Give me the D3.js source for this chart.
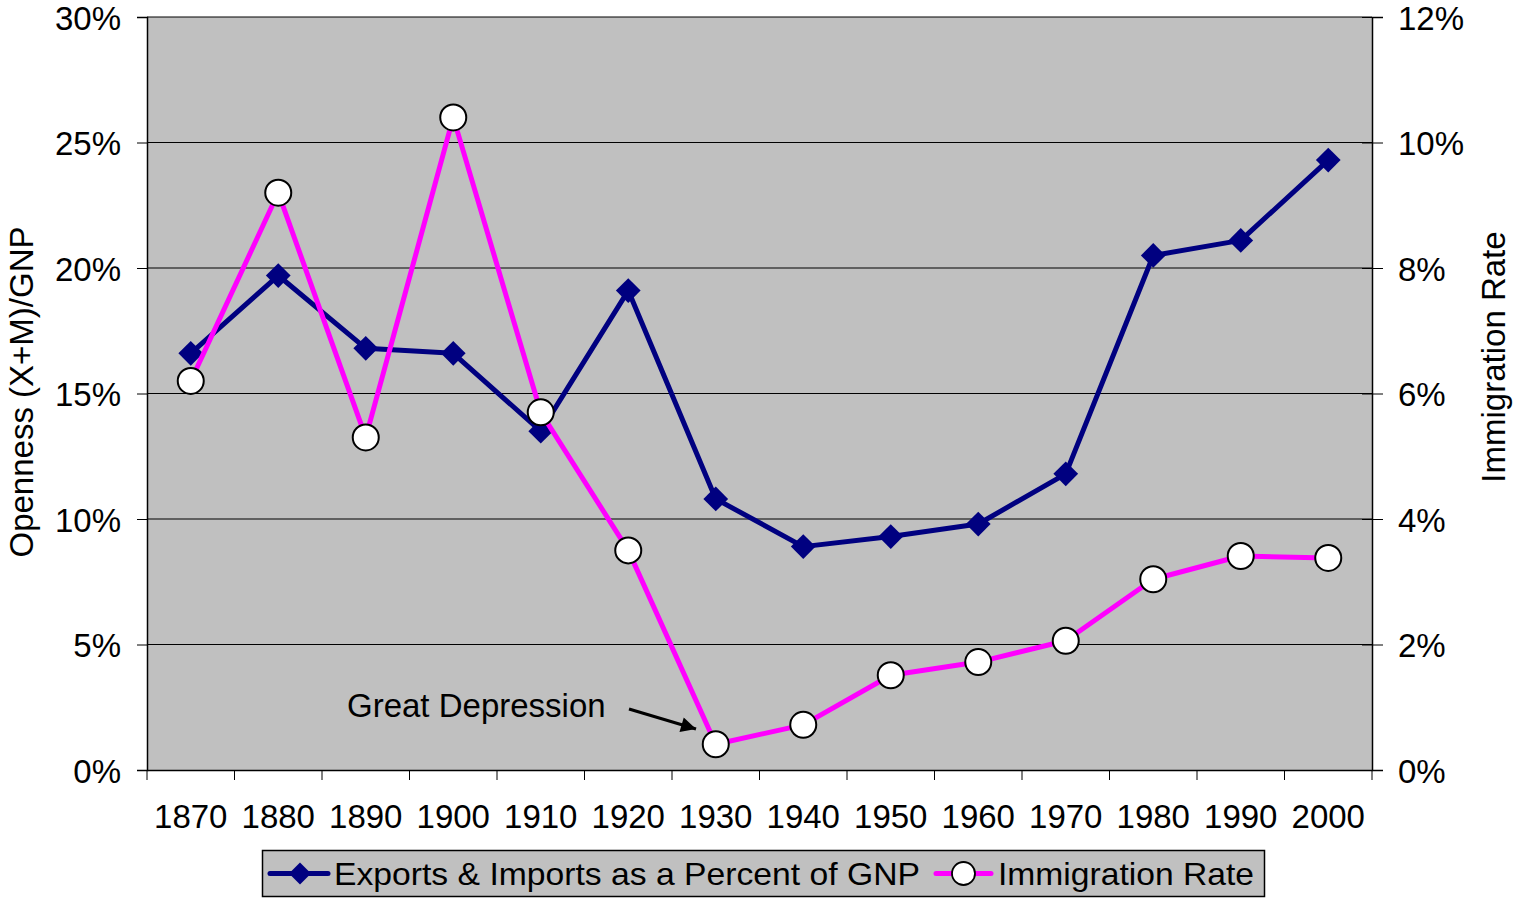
<!DOCTYPE html>
<html>
<head>
<meta charset="utf-8">
<script src="https://cdn.jsdelivr.net/npm/d3@7"></script>
<style>
  body { margin: 0; background: #fff; }
  svg text { font-family: "Liberation Sans", Arial, sans-serif; fill: #000; }
</style>
</head>
<body>
<div id="chart"></div>
<script>
// data
var years = ["1870", "1880", "1890", "1900", "1910", "1920", "1930", "1940", "1950", "1960", "1970", "1980", "1990", "2000"];
var openness = [16.6, 19.7, 16.8, 16.6, 13.5, 19.1, 10.8, 8.9, 9.3, 9.8, 11.8, 20.5, 21.1, 24.3];
var immigration = [6.2, 9.2, 5.3, 10.4, 5.7, 3.5, 0.41, 0.72, 1.51, 1.72, 2.06, 3.04, 3.41, 3.38];
var leftTicks = [0, 5, 10, 15, 20, 25, 30];
var rightTicks = [0, 2, 4, 6, 8, 10, 12];

var W = 1513, H = 899;
var margin = {top: 17, right: 141, bottom: 129, left: 147};
var width = W - margin.left - margin.right,
    height = H - margin.top - margin.bottom;

var svg = d3.select("#chart").append("svg")
    .attr("width", W)
    .attr("height", H);

var g = svg.append("g")
    .attr("transform", "translate(" + margin.left + "," + margin.top + ")");

var x = d3.scaleBand().domain(years).range([0, width]);
var yL = d3.scaleLinear().domain([0, 30]).range([height, 0]);
var yR = d3.scaleLinear().domain([0, 12]).range([height, 0]);
var cx = function(d) { return x(d) + x.bandwidth() / 2; };

// plot area
g.append("rect")
    .attr("width", width)
    .attr("height", height)
    .attr("fill", "#c0c0c0");

// gridlines
g.selectAll(".grid")
  .data(leftTicks.slice(1))
  .enter()
  .append("line")
    .attr("x1", 0)
    .attr("x2", width)
    .attr("y1", function(d) { return yL(d); })
    .attr("y2", function(d) { return yL(d); })
    .attr("stroke", "#000")
    .attr("stroke-width", 1);

// left axis
var axL = g.append("g")
    .call(d3.axisLeft(yL).tickValues(leftTicks).tickSize(10).tickPadding(16)
      .tickFormat(function(d) { return d + "%"; }));
axL.selectAll("text").style("font-size", "33px").attr("dy", "0.37em");

// right axis
var axR = g.append("g")
    .attr("transform", "translate(" + width + ",0)")
    .call(d3.axisRight(yR).tickValues(rightTicks).tickSize(11).tickPadding(15)
      .tickFormat(function(d) { return d + "%"; }));
axR.selectAll("text").style("font-size", "33px").attr("dy", "0.37em");
axR.selectAll(".tick line").attr("x1", -10);

// bottom axis
var axB = g.append("g")
    .attr("transform", "translate(0," + height + ")")
    .call(d3.axisBottom(x).tickSize(0).tickPadding(35));
axB.selectAll("text").style("font-size", "33px");
axB.selectAll(".boundary")
  .data(d3.range(years.length + 1))
  .enter()
  .append("line")
    .attr("x1", function(i) { return i * x.bandwidth(); })
    .attr("x2", function(i) { return i * x.bandwidth(); })
    .attr("y1", 0)
    .attr("y2", 10)
    .attr("stroke", "#000");

[axL, axR, axB].forEach(function(a) {
  a.select(".domain").attr("stroke", "#000").attr("stroke-width", 1.5);
  a.selectAll(".tick line").attr("stroke", "#000");
});

// axis titles
svg.append("text")
    .attr("transform", "translate(33,392) rotate(-90)")
    .attr("text-anchor", "middle")
    .style("font-size", "33px")
    .text("Openness (X+M)/GNP");

svg.append("text")
    .attr("transform", "translate(1505,357) rotate(-90)")
    .attr("text-anchor", "middle")
    .style("font-size", "33px")
    .text("Immigration Rate");

// exports & imports series
var lineL = d3.line()
    .x(function(d, i) { return cx(years[i]); })
    .y(function(d) { return yL(d); });

g.append("path")
    .datum(openness)
    .attr("d", lineL)
    .attr("fill", "none")
    .attr("stroke", "#000080")
    .attr("stroke-width", 5)
    .attr("stroke-linejoin", "round");

var diamond = d3.symbol().type(d3.symbolDiamond2).size(390);
var legDiamond = d3.symbol().type(d3.symbolDiamond2).size(310);

g.selectAll(".dia")
  .data(openness)
  .enter()
  .append("path")
    .attr("d", diamond)
    .attr("transform", function(d, i) { return "translate(" + cx(years[i]) + "," + yL(d) + ")"; })
    .attr("fill", "#000080");

// immigration series
var lineR = d3.line()
    .x(function(d, i) { return cx(years[i]); })
    .y(function(d) { return yR(d); });

g.append("path")
    .datum(immigration)
    .attr("d", lineR)
    .attr("fill", "none")
    .attr("stroke", "#ff00ff")
    .attr("stroke-width", 5)
    .attr("stroke-linejoin", "round");

g.selectAll(".dot")
  .data(immigration)
  .enter()
  .append("circle")
    .attr("cx", function(d, i) { return cx(years[i]); })
    .attr("cy", function(d) { return yR(d); })
    .attr("r", 13)
    .attr("fill", "#fff")
    .attr("stroke", "#000")
    .attr("stroke-width", 2);

// annotation
svg.append("defs").append("marker")
    .attr("id", "arrow")
    .attr("viewBox", "0 0 10 10")
    .attr("refX", 10).attr("refY", 5)
    .attr("markerWidth", 6).attr("markerHeight", 5)
    .attr("orient", "auto")
  .append("path")
    .attr("d", "M0,0 L10,5 L0,10 z")
    .attr("fill", "#000");

svg.append("text")
    .attr("x", 347)
    .attr("y", 717)
    .style("font-size", "33px")
    .text("Great Depression");

svg.append("line")
    .attr("x1", 629).attr("y1", 709)
    .attr("x2", 696).attr("y2", 729)
    .attr("stroke", "#000")
    .attr("stroke-width", 3)
    .attr("marker-end", "url(#arrow)");

// legend
var leg = svg.append("g");
leg.append("rect")
    .attr("x", 262.5).attr("y", 850.5)
    .attr("width", 1002).attr("height", 46)
    .attr("fill", "#c0c0c0")
    .attr("stroke", "#000")
    .attr("stroke-width", 1.5);

leg.append("line")
    .attr("x1", 270).attr("x2", 328).attr("y1", 873.5).attr("y2", 873.5)
    .attr("stroke", "#000080").attr("stroke-width", 5).attr("stroke-linecap", "round");
leg.append("path")
    .attr("d", legDiamond)
    .attr("transform", "translate(300,873.5)")
    .attr("fill", "#000080");
leg.append("text")
    .attr("x", 334).attr("y", 885)
    .attr("textLength", 586)
    .attr("lengthAdjust", "spacingAndGlyphs")
    .style("font-size", "32px")
    .text("Exports & Imports as a Percent of GNP");

leg.append("line")
    .attr("x1", 936).attr("x2", 991).attr("y1", 873.5).attr("y2", 873.5)
    .attr("stroke", "#ff00ff").attr("stroke-width", 5).attr("stroke-linecap", "round");
leg.append("circle")
    .attr("cx", 963.5).attr("cy", 873.5).attr("r", 11.5)
    .attr("fill", "#fff").attr("stroke", "#000").attr("stroke-width", 1.8);
leg.append("text")
    .attr("x", 998).attr("y", 885)
    .attr("textLength", 256)
    .attr("lengthAdjust", "spacingAndGlyphs")
    .style("font-size", "32px")
    .text("Immigration Rate");
</script>
</body>
</html>
